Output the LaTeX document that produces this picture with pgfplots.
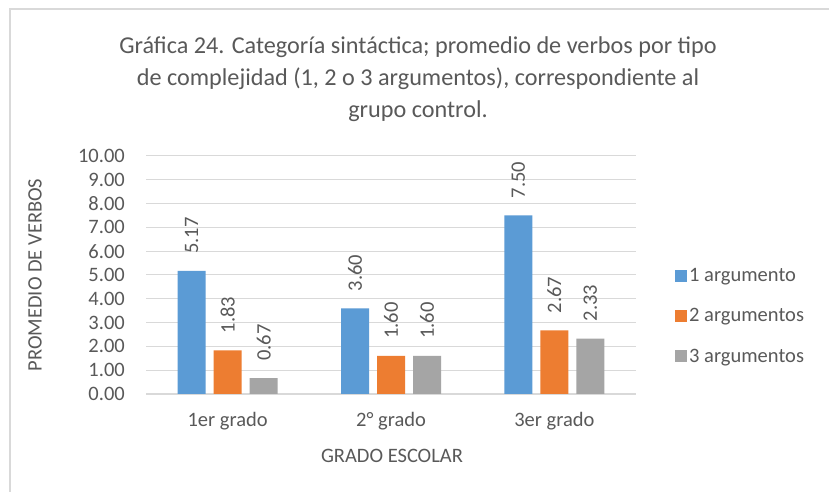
\documentclass[border=0pt]{standalone}
\usepackage{pgfplots}
\pgfplotsset{compat=1.18}
\usepackage{fontspec}
\setmainfont{Carlito}
\definecolor{txt}{HTML}{595959}
\definecolor{gridc}{HTML}{D9D9D9}
\definecolor{cA}{HTML}{5B9BD5}
\definecolor{cB}{HTML}{ED7D31}
\definecolor{cC}{HTML}{A5A5A5}
\begin{document}
\begin{tikzpicture}[x=1pt,y=1pt]
\useasboundingbox[fill=white] (0,0) rectangle (829,492);
\draw[gridc, line width=1.5pt] (10,-20) -- (10,483) -- (850,483);
\node[text=txt, align=center, font=\fontsize{24.2}{32}\selectfont] at (418,413)
  {Gráfica 24. Categoría sintáctica; promedio de verbos por tipo\\
   de complejidad (1, 2 o 3 argumentos), correspondiente al\\
   grupo control.};
\begin{axis}[
  at={(146pt,98pt)}, anchor=south west,
  scale only axis, width=490pt, height=238pt,
  xmin=-0.5, xmax=2.5, ymin=0, ymax=10,
  ybar, bar width=28pt,
  xtick={0,1,2}, xticklabels={1er grado,2° grado,3er grado},
  ytick={0,1,...,10},
  scaled y ticks=false,
  /pgf/number format/fixed, /pgf/number format/fixed zerofill,
  /pgf/number format/precision=2, /pgf/number format/assume math mode=true,
  axis line style={draw=none},
  major tick length=0pt,
  ymajorgrids, grid style={gridc, line width=1pt},
  extra y ticks={0}, extra y tick labels={},
  extra y tick style={grid style={gridc, line width=1.2pt}},
  tick label style={text=txt, font=\fontsize{20.5}{24}\selectfont},
  yticklabel style={anchor=east, inner sep=0pt, xshift=-21pt},
  xticklabel style={anchor=base, inner sep=0pt, yshift=-33pt},
  xlabel={GRADO ESCOLAR}, ylabel={PROMEDIO DE VERBOS},
  label style={text=txt, font=\fontsize{20.5}{24}\selectfont},
  xlabel style={at={(axis description cs:0.502,-0.2605)}, anchor=center},
  ylabel style={at={(axis description cs:-0.2265,0.5)}, anchor=center, rotate=0},
  nodes near coords={\pgfmathprintnumber[fixed,fixed zerofill,precision=2,assume math mode=true]{\pgfplotspointmeta}},
  nodes near coords style={text=txt, font=\fontsize{20.5}{24}\selectfont, rotate=90, anchor=west, inner ysep=0pt, inner xsep=17pt},
  legend style={at={(axis description cs:1.0796,0.5378)}, anchor=north west, draw=none, fill=none,
    inner sep=0pt, row sep=21.5pt, text=txt, font=\fontsize{20.5}{24}\selectfont,
    /tikz/every even column/.append style={column sep=8pt}},
  legend cell align=left,
  legend image code/.code={\fill[#1] (0pt,-6pt) rectangle (12pt,6pt);},
]
\addplot[fill=cA, draw=none, bar shift=-36pt] coordinates {(0,5.17) (1,3.60) (2,7.50)};
\addplot[fill=cB, draw=none, bar shift=0pt] coordinates {(0,1.83) (1,1.60) (2,2.67)};
\addplot[fill=cC, draw=none, bar shift=36pt] coordinates {(0,0.67) (1,1.60) (2,2.33)};
\legend{1 argumento, 2 argumentos, 3 argumentos}
\end{axis}
\end{tikzpicture}
\end{document}
